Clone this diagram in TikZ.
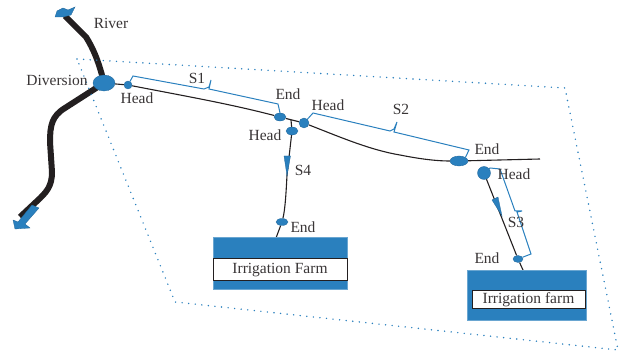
\documentclass[tikz,border=0pt]{standalone}
\usepackage{fontspec}
\setmainfont{Liberation Serif}
\usetikzlibrary{arrows.meta,backgrounds,shapes.geometric}
\definecolor{canalblue}{HTML}{2A80BE}
\definecolor{inkgrey}{HTML}{231F20}

\begin{document}
\begin{tikzpicture}[%
    x=1pt, y=-1pt,
    gate/.style={
        ellipse,
        draw = canalblue!80!black,
        line width = 0.3pt,
        fill = canalblue,
        inner sep = 0pt,
        },
    lbl/.style={
        text = inkgrey!90,
        font = \fontsize{15.5}{15.5}\selectfont,
        inner sep = 0pt,
        },
    river/.style={
        line width = 6pt,
        inkgrey,
        },
    canal/.style={
        line width = 1.1pt,
        inkgrey,
        },
    reach/.style={
        line width = 1pt,
        canalblue,
        },
    farmbox/.style={
        rectangle,
        draw = canalblue!70!white,
        line width = 0.6pt,
        fill = canalblue,
        inner sep = 0pt,
        },
    farmname/.style={
        rectangle,
        draw = inkgrey,
        line width = 1pt,
        fill = white,
        text = inkgrey!90,
        font = \fontsize{15.5}{15.5}\selectfont,
        inner sep = 0pt,
        },
    flowtip/.style={
        fill = canalblue,
        draw = canalblue!80!black,
        line width = 0.3pt,
        },
]

\useasboundingbox (0,0) rectangle (619,355);

% study area
\draw[canalblue, line width=1.6pt, line cap=round, dash pattern=on 0pt off 6.6pt]
    (77,59) -- (565,88) -- (618,350) -- (175,302) -- cycle;

% gates
\node[gate, minimum width=22, minimum height=16] (diversion) at (104,83) {};
\node[gate, minimum width=8, minimum height=8] (heads1) at (128,85) {};
\node[gate, minimum width=12, minimum height=8] (ends1) at (280,117) {};
\node[gate, minimum width=10, minimum height=10] (heads2) at (304,123) {};
\node[gate, minimum width=12, minimum height=8] (heads4) at (292,131) {};
\node[gate, minimum width=18, minimum height=10] (ends2) at (459,161) {};
\node[gate, minimum width=13, minimum height=13] (heads3) at (484,173) {};
\node[gate, minimum width=10, minimum height=7] (ends3) at (518,259) {};
\node[gate, minimum width=12, minimum height=7] (ends4) at (282,222) {};

\coordinate (rivertop) at (65,16);
\coordinate (riverbottom) at (20,217);
\coordinate (canalend) at (540,159);

% farms
\node[farmbox, minimum width=134, minimum height=52] (farmone) at (280,263) {};
\node[farmname, minimum width=134, minimum height=22] (farmonename) at (280,270) {Irrigation Farm};
\node[farmbox, minimum width=119, minimum height=50] (farmtwo) at (526.5,295) {};
\node[farmname, minimum width=113, minimum height=18] (farmtwoname) at (528.5,300) {Irrigation farm};

\begin{scope}[on background layer]
    \draw[river] (rivertop) -- (86,37) .. controls (93,48) and (99,62) .. (diversion.center)
        -- (65,108) .. controls (52,116) and (50,125) .. (50,142)
        -- (52,172) .. controls (52,186) and (47,192) .. (36,202) -- (riverbottom);
    \draw[canal] (diversion) -- (heads1) .. controls (190,97) and (230,104) .. (ends1)
        -- (heads2) .. controls (340,137) and (370,150) .. (400,155)
        .. controls (425,160) and (440,161) .. (ends2) -- (canalend);
    \draw[canal] (291,120) -- (heads4) -- (287,175)
        .. controls (286,195) and (285,210) .. (ends4) -- (276,238);
    \draw[canal] (heads3) -- (ends3) -- (523,270);
\end{scope}

% flow arrows
\fill[flowtip] (284,156) -- (290.5,156) -- (287,176) -- cycle;
\fill[flowtip] (492,200) -- (498,197) -- (502,216) -- cycle;
\fill[flowtip] (55,17) -- (57,11) -- (63,8) -- (68,10) -- (75,7) -- (71,15) -- (63,17) -- cycle;
\fill[flowtip] (32,205) -- (39,208) -- (25,224) -- (30,228) -- (15,229) -- (13,220) -- (18,222) -- cycle;

% reaches
\draw[reach] (heads1) -- (133,76) -- (204,89) -- (209,87) -- (211,80) -- (209,89)
    -- (278,104) -- (ends1.north);
\draw[reach] (heads2) -- (313,113) -- (390,131) -- (394,129) -- (397,122) -- (394,132)
    -- (469,150) -- (ends2.north east);
\draw[reach] (heads3) -- (490,168) -- (500,169) -- (515,211) -- (522,211) -- (517,212)
    -- (531,254) -- (ends3);

% labels
\node[lbl] (lblriver) at (111,23) {River};
\node[lbl] (lbldiversion) at (57,80) {Diversion};
\node[lbl] (lblheada) at (137,98) {Head};
\node[lbl] (lblsone) at (197,78) {S1};
\node[lbl] (lblenda) at (288,94) {End};
\node[lbl] (lblheadb) at (328,105) {Head};
\node[lbl] (lblstwo) at (401,109) {S2};
\node[lbl] (lblheadd) at (265,135) {Head};
\node[lbl] (lblsfour) at (303,170) {S4};
\node[lbl] (lblendb) at (487,149) {End};
\node[lbl] (lblheadc) at (514,174) {Head};
\node[lbl] (lblsthree) at (516,222) {S3};
\node[lbl] (lblendd) at (303,227) {End};
\node[lbl] (lblendc) at (487,258) {End};

\end{tikzpicture}
\end{document}
